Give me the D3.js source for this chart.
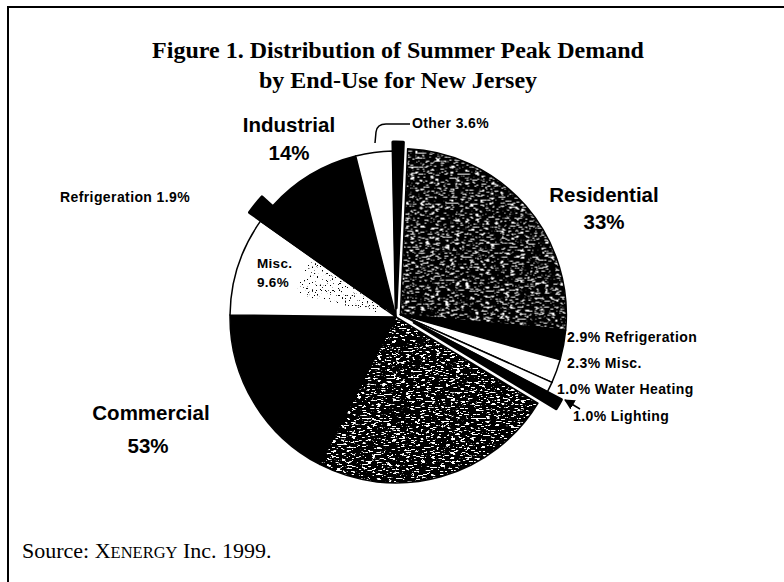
<!DOCTYPE html>
<html>
<head>
<meta charset="utf-8">
<title>Summer Peak Demand by End-Use, New Jersey</title>
<style>
  body{ margin:0; background:#fff; }
  svg{ display:block; }
</style>
</head>
<body>
<script src="https://cdn.jsdelivr.net/npm/d3@7/dist/d3.min.js"></script>
<script>
// data (percent of summer peak)
var sectorNames  = ['Residential', 'Commercial', 'Industrial'];
var sectorTotals = [33, 53, 14];

var sliceSector = ['Residential','Residential','Residential','Residential','Residential',
                   'Commercial','Commercial','Commercial','Commercial',
                   'Industrial','Industrial','Industrial'];
var sliceUses   = ['Cooling','Refrigeration','Misc.','Water Heating','Lighting',
                   'Cooling','Lighting','Misc.','Refrigeration',
                   'Process','Other','Lighting'];
var sliceValues = [25.8, 2.9, 2.3, 1.0, 1.0,
                   23.9, 17.6, 9.6, 1.9,
                   9.4, 3.6, 1.0];

var W = 784, H = 582;
var cx = 396, cy = 317, R = 166;
var rot = 2.5 * Math.PI / 180;   // the scanned pie is turned a little clockwise

// styles
var fillByUse = {
  'Cooling': 'url(#stipple-fill)', 'Refrigeration': '#000', 'Misc.': '#fff',
  'Water Heating': '#fff', 'Lighting': '#000', 'Process': '#000', 'Other': '#fff'
};
var sectorExplode = { Residential: 5, Commercial: 0, Industrial: 0 };
var sliceExplode = { 'Residential Lighting': 16, 'Commercial Refrigeration': 14, 'Industrial Lighting': 9 };

var svg = d3.select('body').append('svg').attr('width', W).attr('height', H);

var defs = svg.append('defs');

// binary noise texture: threshold a turbulence field
function grain(id, freq, seed, slope, intercept){
  var f = defs.append('filter').attr('id', id)
    .attr('x', 0).attr('y', 0).attr('width', 1).attr('height', 1)
    .attr('color-interpolation-filters', 'sRGB');
  f.append('feTurbulence').attr('type', 'fractalNoise')
    .attr('baseFrequency', freq).attr('numOctaves', 3).attr('seed', seed);
  f.append('feColorMatrix').attr('type', 'matrix')
    .attr('values', '1 0 0 0 0  1 0 0 0 0  1 0 0 0 0  0 0 0 0 1');
  var ct = f.append('feComponentTransfer');
  ['feFuncR', 'feFuncG', 'feFuncB'].forEach(function(n){
    ct.append(n).attr('type', 'linear').attr('slope', slope).attr('intercept', intercept);
  });
  defs.append('pattern').attr('id', id + '-fill')
    .attr('patternUnits', 'userSpaceOnUse').attr('width', W).attr('height', H)
    .append('rect').attr('width', W).attr('height', H).attr('filter', 'url(#' + id + ')');
}
grain('stipple', '0.2 0.7', 9, 20, -11.7);       // white flecks on black
grain('speckle', '0.6 0.6', 3, -20, 14.2);        // sparse dark dots on white

// frame
svg.append('rect').attr('x', 8).attr('y', 7).attr('width', W).attr('height', H)
  .attr('fill', 'none').attr('stroke', '#000').attr('stroke-width', 2);

// title
var title = svg.append('text').attr('text-anchor', 'middle')
  .style('font-family', '"Liberation Serif", "Times New Roman", serif')
  .style('font-weight', 'bold').style('font-size', '24px');
title.append('tspan').attr('x', 398).attr('y', 58).text('Figure 1. Distribution of Summer Peak Demand');
title.append('tspan').attr('x', 398).attr('y', 88).text('by End-Use for New Jersey');

// pie
var slices = sliceValues.map(function(v, i){
  return { sector: sliceSector[i], use: sliceUses[i], value: v };
});
var pie = d3.pie().sort(null).startAngle(rot).endAngle(rot + 2 * Math.PI)
  .value(function(d){ return d.value; });
var arcs = pie(slices);
var sectorArcs = d3.pie().sort(null).startAngle(rot).endAngle(rot + 2 * Math.PI)(sectorTotals);
var arc = d3.arc().innerRadius(0).outerRadius(R);

function shift(angle, d){ return [Math.sin(angle) * d, -Math.cos(angle) * d]; }

arcs.forEach(function(a){
  var si = sectorNames.indexOf(a.data.sector);
  var sa = sectorArcs[si];
  var key = a.data.sector + ' ' + a.data.use;
  var s1 = shift((sa.startAngle + sa.endAngle) / 2, sectorExplode[a.data.sector]);
  var s2 = shift((a.startAngle + a.endAngle) / 2, sliceExplode[key] || 0);
  a.dx = cx + s1[0] + s2[0];
  a.dy = cy + s1[1] + s2[1];
  a.thin = !!sliceExplode[key];
});

var pieG = svg.append('g');
pieG.selectAll('path.slice')
  .data(arcs.filter(function(a){ return !a.thin; }).concat(arcs.filter(function(a){ return a.thin; })))
  .enter().append('path')
  .attr('class', 'slice')
  .attr('transform', function(a){ return 'translate(' + a.dx + ',' + a.dy + ')'; })
  .attr('d', arc)
  .attr('fill', function(a){ return fillByUse[a.data.use]; })
  .attr('stroke', '#000')
  .attr('stroke-width', function(a){ return a.thin ? 3 : 1.5; })
  .attr('stroke-linejoin', 'round');

// grey speckle in the inner part of the commercial misc. slice
var cm = arcs.filter(function(a){ return a.data.sector === 'Commercial' && a.data.use === 'Misc.'; })[0];
pieG.append('path')
  .attr('transform', 'translate(' + cm.dx + ',' + cm.dy + ')')
  .attr('d', d3.arc().innerRadius(R * 0.12).outerRadius(R * 0.62)
    .startAngle(cm.startAngle + (cm.endAngle - cm.startAngle) * 0.35)
    .endAngle(cm.endAngle - 0.02)())
  .attr('fill', 'url(#speckle-fill)');

// labels
var sans = '"Liberation Sans", Arial, Helvetica, sans-serif';
function label(x, y, txt, size, anchor, spacing){
  return svg.append('text').attr('x', x).attr('y', y)
    .attr('text-anchor', anchor || 'start')
    .style('font-family', sans).style('font-weight', 'bold')
    .style('letter-spacing', (spacing || 0) + 'px')
    .style('font-size', size + 'px').text(txt);
}

function pct(v){ return v.toFixed(1) + '%'; }
function find(sector, use){
  return arcs.filter(function(a){ return a.data.sector === sector && a.data.use === use; })[0].data.value;
}

// big sector labels
label(289, 132, 'Industrial', 20.5, 'middle');
label(289, 160, sectorTotals[2] + '%', 20.5, 'middle');
label(604, 202, 'Residential', 20.5, 'middle');
label(604, 229, sectorTotals[0] + '%', 20.5, 'middle');
label(151, 420, 'Commercial', 20.5, 'middle');
label(148, 453, sectorTotals[1] + '%', 20.5, 'middle');

// end-use labels
label(412, 128, 'Other ' + pct(find('Industrial', 'Other')), 14, 'start', 0.4);
label(60, 202, 'Refrigeration ' + pct(find('Commercial', 'Refrigeration')), 14, 'start', 0.4);
label(257, 268, 'Misc.', 13.5, 'start', 0.3);
label(257, 287, pct(find('Commercial', 'Misc.')), 13.5, 'start', 0.3);
label(567, 342, pct(find('Residential', 'Refrigeration')) + ' Refrigeration', 14, 'start', 0.4);
label(567, 368, pct(find('Residential', 'Misc.')) + ' Misc.', 14, 'start', 0.4);
label(557, 394, pct(find('Residential', 'Water Heating')) + ' Water Heating', 14, 'start', 0.4);
label(573, 421, pct(find('Residential', 'Lighting')) + ' Lighting', 14, 'start', 0.4);

// leader for Other
svg.append('path')
  .attr('d', 'M410,124 L386,124 Q377,124 376,132 L375,143')
  .attr('fill', 'none').attr('stroke', '#000').attr('stroke-width', 1.5);

// arrow for residential lighting
defs.append('marker').attr('id', 'arrow').attr('viewBox', '0 0 10 10')
  .attr('refX', 9).attr('refY', 5).attr('markerWidth', 7).attr('markerHeight', 7)
  .attr('orient', 'auto')
  .append('path').attr('d', 'M0,0 L10,5 L0,10 z').attr('fill', '#000');
svg.append('line').attr('x1', 580).attr('y1', 409).attr('x2', 565).attr('y2', 400)
  .attr('stroke', '#000').attr('stroke-width', 1.5).attr('marker-end', 'url(#arrow)');

// source
var src = svg.append('text').attr('x', 22).attr('y', 558)
  .style('font-family', '"Liberation Serif", "Times New Roman", serif')
  .style('font-size', '22px');
src.append('tspan').text('Source: ');
src.append('tspan').text('X');
src.append('tspan').style('font-size', '16.5px').text('ENERGY');
src.append('tspan').text(' Inc. 1999.');
</script>
</body>
</html>
